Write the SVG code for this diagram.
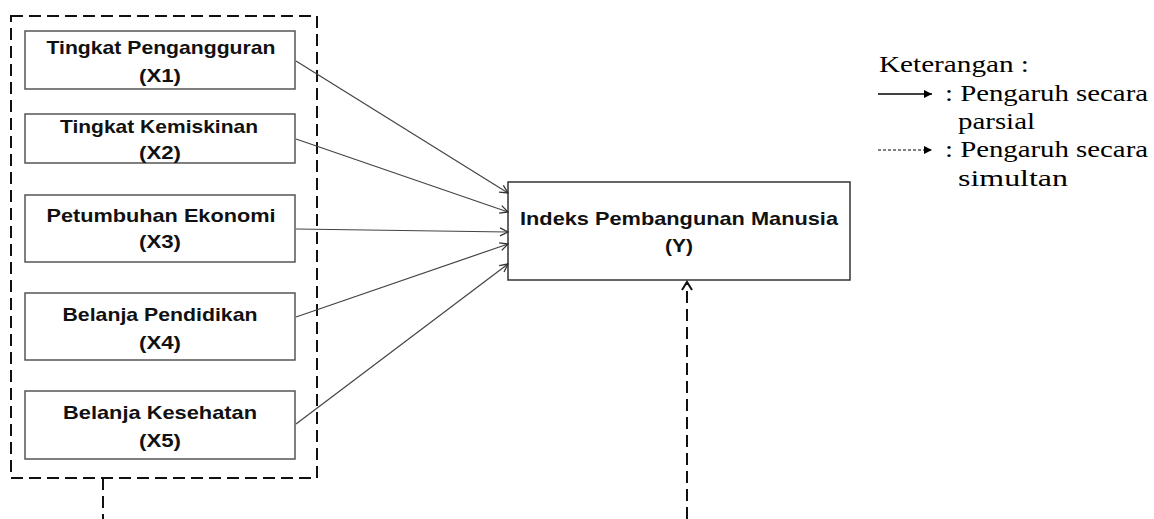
<svg xmlns="http://www.w3.org/2000/svg" width="1154" height="519" viewBox="0 0 1154 519">
<style>
.box{fill:#fff;stroke:#555;stroke-width:1.5}
.lbl{font-family:"Liberation Sans",Arial,sans-serif;font-weight:bold;font-size:18.5px;fill:#111;text-anchor:middle}
.leg{font-family:"Liberation Serif","Times New Roman",serif;font-size:24px;fill:#000}
.conn{stroke:#444;stroke-width:1.2;fill:none;marker-end:url(#open)}
.dash{stroke:#111;stroke-width:2;fill:none;stroke-dasharray:12 6}
</style>
<defs>
<marker id="open" markerWidth="12" markerHeight="12" refX="9" refY="5" orient="auto" markerUnits="userSpaceOnUse">
<path d="M1,1 L9,5 L1,9" fill="none" stroke="#333" stroke-width="1.3"/>
</marker>
<marker id="tri" markerWidth="10" markerHeight="10" refX="8" refY="4" orient="auto" markerUnits="userSpaceOnUse">
<path d="M0,0 L8,4 L0,8 Z" fill="#000"/>
</marker>
</defs>
<g id="group-x">
<rect x="11" y="16" width="306" height="462" class="dash"/>
</g>
<g id="x1">
<rect x="25" y="31" width="270" height="58" class="box"/>
<text x="161" y="54" class="lbl" textLength="229" lengthAdjust="spacingAndGlyphs">Tingkat Pengangguran</text>
<text x="160" y="82" class="lbl" textLength="42" lengthAdjust="spacingAndGlyphs">(X1)</text>
</g>
<g id="x2">
<rect x="25" y="114" width="270" height="49" class="box"/>
<text x="159" y="133" class="lbl" textLength="198" lengthAdjust="spacingAndGlyphs">Tingkat Kemiskinan</text>
<text x="160" y="159" class="lbl" textLength="42" lengthAdjust="spacingAndGlyphs">(X2)</text>
</g>
<g id="x3">
<rect x="25" y="195" width="270" height="67" class="box"/>
<text x="161" y="222" class="lbl" textLength="229" lengthAdjust="spacingAndGlyphs">Petumbuhan Ekonomi</text>
<text x="160" y="248" class="lbl" textLength="42" lengthAdjust="spacingAndGlyphs">(X3)</text>
</g>
<g id="x4">
<rect x="25" y="293" width="270" height="67" class="box"/>
<text x="160" y="321" class="lbl" textLength="195" lengthAdjust="spacingAndGlyphs">Belanja Pendidikan</text>
<text x="160" y="349" class="lbl" textLength="42" lengthAdjust="spacingAndGlyphs">(X4)</text>
</g>
<g id="x5">
<rect x="25" y="391" width="270" height="68" class="box"/>
<text x="160" y="419" class="lbl" textLength="194" lengthAdjust="spacingAndGlyphs">Belanja Kesehatan</text>
<text x="160" y="447" class="lbl" textLength="42" lengthAdjust="spacingAndGlyphs">(X5)</text>
</g>
<g id="y">
<rect x="508" y="182" width="342" height="98" fill="#fff" stroke="#333" stroke-width="1.5"/>
<text x="679" y="225" class="lbl" textLength="318" lengthAdjust="spacingAndGlyphs">Indeks Pembangunan Manusia</text>
<text x="679" y="252" class="lbl" textLength="28" lengthAdjust="spacingAndGlyphs">(Y)</text>
</g>
<g id="connectors">
<line x1="296" y1="61" x2="508" y2="193" class="conn"/>
<line x1="296" y1="139" x2="508" y2="212" class="conn"/>
<line x1="296" y1="229" x2="508" y2="232" class="conn"/>
<line x1="296" y1="317" x2="508" y2="244" class="conn"/>
<line x1="296" y1="424" x2="508" y2="264" class="conn"/>
<line x1="103" y1="478" x2="103" y2="519" class="dash"/>
<line x1="687" y1="519" x2="687" y2="283" class="dash"/>
<path d="M682,290 L687,282 L692,290" fill="none" stroke="#111" stroke-width="2"/>
</g>
<g id="legend">
<text x="879" y="72" class="leg" textLength="150" lengthAdjust="spacingAndGlyphs">Keterangan :</text>
<line x1="878" y1="94" x2="932" y2="94" stroke="#000" stroke-width="1.5" marker-end="url(#tri)"/>
<text x="945" y="101" class="leg" textLength="203" lengthAdjust="spacingAndGlyphs">: Pengaruh secara</text>
<text x="958" y="129" class="leg" textLength="77" lengthAdjust="spacingAndGlyphs">parsial</text>
<line x1="878" y1="150" x2="932" y2="150" stroke="#000" stroke-width="1.2" stroke-dasharray="3 2" marker-end="url(#tri)"/>
<text x="945" y="157" class="leg" textLength="203" lengthAdjust="spacingAndGlyphs">: Pengaruh secara</text>
<text x="958" y="186" class="leg" textLength="110" lengthAdjust="spacingAndGlyphs">simultan</text>
</g>
</svg>
